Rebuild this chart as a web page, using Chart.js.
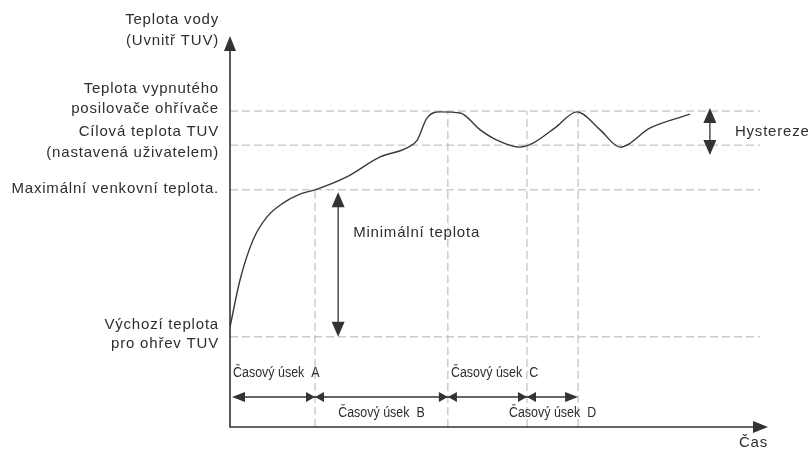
<!DOCTYPE html>
<html><head><meta charset="utf-8">
<script src="https://cdn.jsdelivr.net/npm/chart.js@4.4.1/dist/chart.umd.min.js"></script>
<style>html,body{margin:0;padding:0;background:#fff}</style>
</head><body>
<canvas id="c" width="811" height="450"></canvas>
<script>
// ---- data (time 0..100, temperature 0..100, arbitrary units) ----
const curveTime = [0, 1.86, 4.28, 6.88, 9.85, 13.0, 15.8, 21.7, 27.9, 32.9, 34.8, 36.6, 39.0, 42.8, 46.5, 49.6, 53.9, 56.3, 60.4, 64.5, 68.8, 72.5, 78.1, 85.5];
const curveTemp = [25.5, 37.5, 47.7, 53.6, 57.1, 59.4, 60.5, 63.8, 68.9, 71.2, 73.2, 78.8, 80.4, 80.1, 75.8, 73.2, 71.4, 72.4, 76.3, 80.4, 75.8, 71.4, 76.3, 79.8];
const levelValues = [23.0, 60.5, 71.9, 80.6];
const levelLabels = [
  ['Výchozí teplota', 'pro ohřev TUV'],
  ['Maximální venkovní teplota.'],
  ['Cílová teplota TUV', '(nastavená uživatelem)'],
  ['Teplota vypnutého', 'posilovače ohřívače']
];
const levelLineEnd = 98.5;
const segmentBounds = [0, 15.8, 40.5, 55.2, 64.7];
const segmentLabels = ['Časový úsek  A', 'Časový úsek  B', 'Časový úsek  C', 'Časový úsek  D'];
const boundaryTops = [60.5, 80.6, 80.6, 80.6];
const minTempTime = 20.1;
const minTempRange = [23.0, 59.9];
const minTempLabel = 'Minimální teplota';
const hysteresisTime = 89.2;
const hysteresisRange = [69.4, 81.4];
const hysteresisLabel = 'Hystereze';
const yAxisTitle = ['Teplota vody', '(Uvnitř TUV)'];
const xAxisTitle = 'Čas';

// ---- datasets ----
const dashColor = '#b4b4b4';
const datasets = [];
datasets.push({
  data: curveTime.map((t, i) => ({x: t, y: curveTemp[i]})),
  borderColor: '#3a3a3a', borderWidth: 1.4, pointRadius: 0,
  cubicInterpolationMode: 'monotone', fill: false, order: 0
});
levelValues.forEach(v => datasets.push({
  data: [{x: 0, y: v}, {x: levelLineEnd, y: v}],
  borderColor: dashColor, borderWidth: 1, borderDash: [8, 4], pointRadius: 0, order: 5
}));
segmentBounds.slice(1).forEach((b, i) => datasets.push({
  data: [{x: b, y: 0}, {x: b, y: boundaryTops[i]}],
  borderColor: dashColor, borderWidth: 1, borderDash: [8, 4], pointRadius: 0, order: 5
}));

function head(ctx, x, y, dx, dy, len, half) {
  const px = -dy, py = dx;
  ctx.beginPath();
  ctx.moveTo(x, y);
  ctx.lineTo(x - dx * len + px * half, y - dy * len + py * half);
  ctx.lineTo(x - dx * len - px * half, y - dy * len - py * half);
  ctx.closePath();
  ctx.fill();
}

const annot = {
  id: 'annot',
  afterDraw(chart) {
    const ctx = chart.ctx, xs = chart.scales.x, ys = chart.scales.y;
    const ca = chart.chartArea;
    ctx.save();
    const ink = '#333';
    ctx.strokeStyle = ink; ctx.fillStyle = ink;
    // axes
    ctx.lineWidth = 1.6;
    ctx.beginPath();
    ctx.moveTo(ca.left, ca.top + 8); ctx.lineTo(ca.left, ca.bottom); ctx.lineTo(ca.right - 8, ca.bottom);
    ctx.stroke();
    head(ctx, ca.left, ca.top + 1, 0, -1, 15, 6);
    head(ctx, ca.right, ca.bottom, 1, 0, 15, 6);
    // segment arrows
    ctx.lineWidth = 1.3;
    const ay = ca.bottom - 30;
    const x0 = xs.getPixelForValue(segmentBounds[0]);
    const x1 = xs.getPixelForValue(segmentBounds[segmentBounds.length - 1]);
    ctx.beginPath(); ctx.moveTo(x0 + 4, ay); ctx.lineTo(x1 - 4, ay); ctx.stroke();
    for (let i = 0; i < segmentBounds.length - 1; i++) {
      const a = xs.getPixelForValue(segmentBounds[i]);
      const b = xs.getPixelForValue(segmentBounds[i + 1]);
      head(ctx, i === 0 ? a + 2 : a, ay, -1, 0, i === 0 ? 13 : 9, 5);
      head(ctx, b, ay, 1, 0, i === segmentBounds.length - 2 ? 13 : 9, 5);
    }
    // min temp arrow
    const mx = xs.getPixelForValue(minTempTime);
    const mTop = ys.getPixelForValue(minTempRange[1]);
    const mBot = ys.getPixelForValue(minTempRange[0]);
    ctx.beginPath(); ctx.moveTo(mx, mTop + 8); ctx.lineTo(mx, mBot - 8); ctx.stroke();
    head(ctx, mx, mTop, 0, -1, 15, 6.5);
    head(ctx, mx, mBot, 0, 1, 15, 6.5);
    // hysteresis arrow
    const hx = xs.getPixelForValue(hysteresisTime);
    const hTop = ys.getPixelForValue(hysteresisRange[1]);
    const hBot = ys.getPixelForValue(hysteresisRange[0]);
    ctx.beginPath(); ctx.moveTo(hx, hTop + 8); ctx.lineTo(hx, hBot - 8); ctx.stroke();
    head(ctx, hx, hTop, 0, -1, 15, 6.5);
    head(ctx, hx, hBot, 0, 1, 15, 6.5);

    // texts
    ctx.fillStyle = '#2e2e2e';
    ctx.textBaseline = 'middle';
    ctx.font = "15px 'Liberation Sans', Arial, sans-serif";
    ctx.letterSpacing = '0.8px';
    ctx.textAlign = 'right';
    const lx = ca.left - 11;
    ctx.fillText(yAxisTitle[0], lx, ca.top - 15);
    ctx.fillText(yAxisTitle[1], lx, ca.top + 6);
    const offs = [[-12, 7], [-1], [-13, 8], [-22, -2]];
    levelLabels.forEach((lines, i) => {
      const y = ys.getPixelForValue(levelValues[i]);
      lines.forEach((t, j) => ctx.fillText(t, lx, y + offs[i][j]));
    });
    ctx.textAlign = 'left';
    ctx.fillText(minTempLabel, mx + 15, mTop + 41);
    ctx.fillText(hysteresisLabel, hx + 25, (hTop + hBot) / 2);
    ctx.textAlign = 'right';
    ctx.fillText(xAxisTitle, ca.right, ca.bottom + 16);
    // segment labels (condensed)
    ctx.font = "14px 'Liberation Sans', Arial, sans-serif";
    ctx.letterSpacing = '0px';
    const sx = 0.89;
    for (let i = 0; i < segmentLabels.length; i++) {
      const a = xs.getPixelForValue(segmentBounds[i]);
      const b = xs.getPixelForValue(segmentBounds[i + 1]);
      ctx.save();
      ctx.scale(sx, 1);
      if (i % 2 === 0) {
        ctx.textAlign = 'left';
        ctx.fillText(segmentLabels[i], (a + 3) / sx, ay - 24);
      } else {
        ctx.textAlign = 'center';
        ctx.fillText(segmentLabels[i], ((a + b) / 2) / sx, ay + 16);
      }
      ctx.restore();
    }
    ctx.restore();
  }
};

new Chart(document.getElementById('c'), {
  type: 'line',
  data: {datasets},
  options: {
    responsive: false, animation: false,
    layout: {padding: {left: 230, right: 43, top: 35, bottom: 23}},
    plugins: {legend: {display: false}, tooltip: {enabled: false}},
    scales: {
      x: {type: 'linear', min: 0, max: 100, display: false},
      y: {type: 'linear', min: 0, max: 100, display: false}
    }
  },
  plugins: [annot]
});
</script>
</body></html>
